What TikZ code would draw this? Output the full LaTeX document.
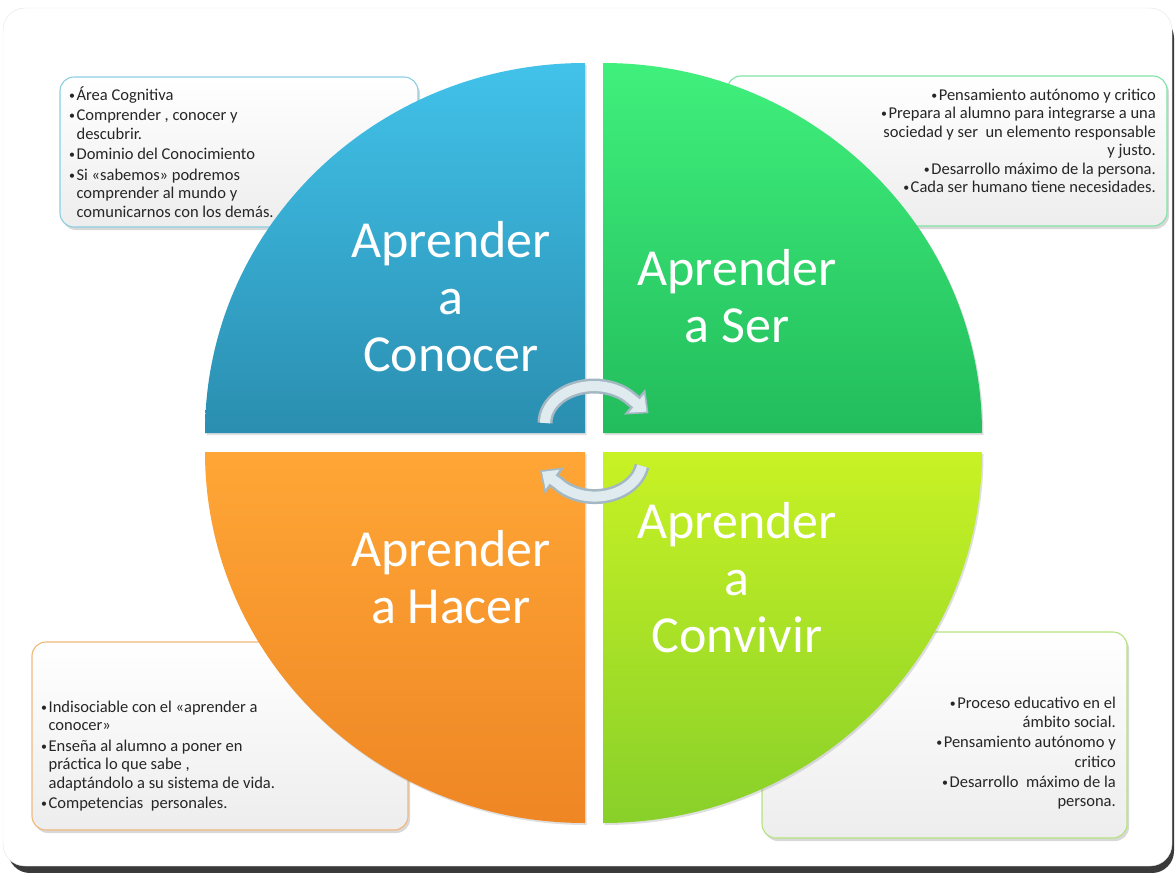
\documentclass[tikz,border=0pt]{standalone}
\usepackage{fontspec}
\usepackage{graphicx}
\setmainfont{Carlito}
\usetikzlibrary{shadows,arrows.meta}
\definecolor{framesh}{HTML}{3A3A3A}
\definecolor{tlA}{HTML}{42C2EA}\definecolor{tlB}{HTML}{2A8EB0}
\definecolor{trA}{HTML}{40F07C}\definecolor{trB}{HTML}{22BC5C}
\definecolor{blA}{HTML}{FFA636}\definecolor{blB}{HTML}{EE8624}
\definecolor{brA}{HTML}{C8F224}\definecolor{brB}{HTML}{88D02A}
\definecolor{tlBorder}{HTML}{8CCFE2}\definecolor{trBorder}{HTML}{80E4A6}
\definecolor{blBorder}{HTML}{F0B87A}\definecolor{brBorder}{HTML}{B6E27E}
\definecolor{arrowedge}{HTML}{A3B8C2}\definecolor{arrowfill}{HTML}{E0EBF0}
\newcommand{\bu}{\raisebox{1pt}{\scalebox{0.72}{•}}\hspace{1.5pt}}
\newcommand{\bl}{\hphantom{\bu}}
\newcommand{\fs}{\rule{0pt}{15pt}}
\newcommand{\bs}{\rule{0pt}{40pt}}
\begin{document}
\begin{tikzpicture}[x=1pt,y=-1pt,
  infobox/.style={rectangle, rounded corners=14pt, line width=1.1pt,
    top color=white, bottom color=black!7,
    drop shadow={shadow xshift=2pt, shadow yshift=-3pt, opacity=0.3}},
  listtext/.style={inner sep=0pt, text=black!85,
    font=\fontsize{16.5}{18.5}\selectfont},
  bigtext/.style={inner sep=0pt, text=white, align=center, anchor=north,
    font=\fontsize{52}{57}\selectfont},
  quad/.style={drop shadow={shadow xshift=1.5pt, shadow yshift=-2pt, opacity=0.25}},
  arrout/.style={line width=15pt, color=arrowedge, -{Triangle[length=18pt,width=32pt]}},
  arrin/.style={line width=10pt, color=arrowfill, shorten >=2.5pt, -{Triangle[length=13pt,width=23pt]}}
]
\useasboundingbox (0,0) rectangle (1176,873);
% frame
\fill[framesh, rounded corners=22pt] (8,16) rectangle (1174,873);
\draw[fill=white, draw=black!10, rounded corners=22pt] (3,8) rectangle (1172,866);

% info boxes
\node[infobox, draw=tlBorder, minimum width=358pt, minimum height=150pt] (boxTL) at (239,152) {};
\node[infobox, draw=trBorder, minimum width=440pt, minimum height=150pt] (boxTR) at (947,151) {};
\node[infobox, draw=blBorder, minimum width=376pt, minimum height=188pt] (boxBL) at (220,736) {};
\node[infobox, draw=brBorder, minimum width=365pt, minimum height=206pt] (boxBR) at (944.5,735) {};

\node[listtext, anchor=north west, align=left] (txtTL) at (69,85) {\fs\bu Área Cognitiva\\[2pt]
\bu Comprender , conocer y\\
\bl descubrir.\\[2pt]
\bu Dominio del Conocimiento\\[2pt]
\bu Si «sabemos» podremos\\
\bl comprender al mundo y\\
\bl comunicarnos con los demás.};

\node[listtext, anchor=north east, align=right] (txtTR) at (1156,85) {\fs\bu Pensamiento autónomo y critico\\
\bu Prepara al alumno para integrarse a una\\
sociedad y ser \ un elemento responsable\\
y justo.\\
\bu Desarrollo máximo de la persona.\\
\bu Cada ser humano tiene necesidades.};

\node[listtext, anchor=north west, align=left] (txtBL) at (41,697) {\fs\bu Indisociable con el «aprender a\\
\bl conocer»\\[2pt]
\bu Enseña al alumno a poner en\\
\bl práctica lo que sabe ,\\
\bl adaptándolo a su sistema de vida.\\[2pt]
\bu Competencias \ personales.};

\node[listtext, anchor=north east, align=right, font=\fontsize{16.5}{19.5}\selectfont] (txtBR) at (1116,693) {\fs\bu Proceso educativo en el\\
ámbito social.\\[0.5pt]
\bu Pensamiento autónomo y\\
critico\\[0.5pt]
\bu Desarrollo \ máximo de la\\
persona.};

% quadrants
\shade[quad, top color=tlA, bottom color=tlB] (585,433) -- (205,433)
  arc[start angle=180, end angle=270, x radius=380, y radius=370] -- cycle;
\shade[quad, top color=trA, bottom color=trB] (603,433) -- (603,63)
  arc[start angle=270, end angle=360, x radius=379, y radius=370] -- cycle;
\shade[quad, top color=brA, bottom color=brB] (603,452) -- (982,452)
  arc[start angle=0, end angle=90, x radius=379, y radius=371] -- cycle;
\shade[quad, top color=blA, bottom color=blB] (585,452) -- (585,823)
  arc[start angle=90, end angle=180, x radius=380, y radius=371] -- cycle;

% titles
\node[bigtext] (tTL) at (451,217) {\bs Aprender\\a\\Conocer};
\node[bigtext] (tTR) at (737,245) {\bs Aprender\\a Ser};
\node[bigtext] (tBL) at (451,526) {\bs Aprender\\a Hacer};
\node[bigtext] (tBR) at (737,498) {\bs Aprender\\a\\Convivir};

% circular arrows
\draw[arrout] (545,423) arc[start angle=180, end angle=320, x radius=49, y radius=37] -- ++(17,14);
\draw[arrin] (545,423) arc[start angle=180, end angle=320, x radius=49, y radius=37] -- ++(17,14);
\draw[arrout] (642,466) arc[start angle=10, end angle=140, x radius=48, y radius=37] -- ++(-18,-13);
\draw[arrin] (642,466) arc[start angle=10, end angle=140, x radius=48, y radius=37] -- ++(-18,-13);
\end{tikzpicture}
\end{document}
